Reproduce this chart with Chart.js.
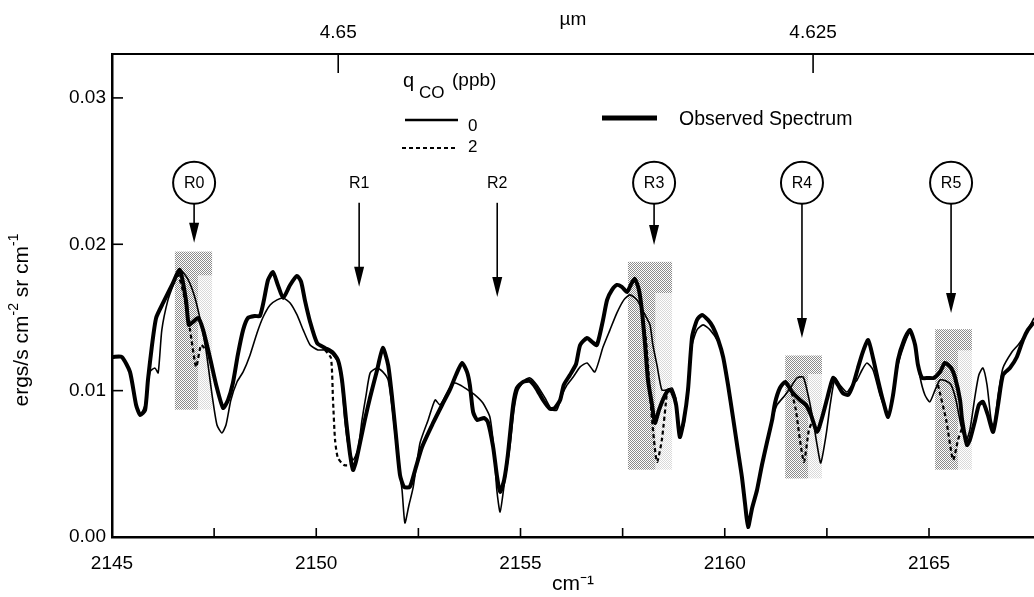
<!DOCTYPE html>
<html>
<head>
<meta charset="utf-8">
<script src="https://cdn.jsdelivr.net/npm/chart.js@4.4.1/dist/chart.umd.min.js"></script>
<style>html,body{margin:0;padding:0;background:#fff}</style>
</head>
<body>
<canvas id="spec" width="1034" height="597"></canvas>
<script>
"use strict";
const FONT = '"Liberation Sans", Arial, Helvetica, sans-serif';

// observed spectrum (thick line)
const obsX = [2145.02, 2145.24, 2145.44, 2145.59, 2145.69, 2145.81, 2145.88, 2145.98, 2146.08, 2146.25,
  2146.47, 2146.66, 2146.81, 2146.88, 2146.98, 2147.11, 2147.23, 2147.40, 2147.55, 2147.72,
  2147.84, 2147.96, 2148.08, 2148.21, 2148.33, 2148.50, 2148.62, 2148.72, 2148.82, 2148.94,
  2149.06, 2149.19, 2149.36, 2149.53, 2149.63, 2149.72, 2149.85, 2150.02, 2150.21, 2150.39,
  2150.53, 2150.63, 2150.73, 2150.83, 2150.90, 2150.97, 2151.07, 2151.19, 2151.32, 2151.49,
  2151.63, 2151.76, 2151.85, 2151.95, 2152.05, 2152.15, 2152.29, 2152.42, 2152.59, 2152.86,
  2153.08, 2153.27, 2153.42, 2153.57, 2153.69, 2153.76, 2153.84, 2153.94, 2154.11, 2154.20,
  2154.33, 2154.42, 2154.50, 2154.60, 2154.69, 2154.82, 2154.91, 2155.06, 2155.23, 2155.38,
  2155.55, 2155.72, 2155.84, 2155.97, 2156.06, 2156.21, 2156.36, 2156.46, 2156.63, 2156.75,
  2156.87, 2157.02, 2157.12, 2157.24, 2157.36, 2157.48, 2157.61, 2157.71, 2157.80, 2157.90,
  2157.97, 2158.05, 2158.12, 2158.22, 2158.29, 2158.39, 2158.54, 2158.64, 2158.71, 2158.81,
  2158.90, 2159.00, 2159.10, 2159.20, 2159.32, 2159.44, 2159.59, 2159.71, 2159.84, 2159.96,
  2160.08, 2160.20, 2160.32, 2160.42, 2160.50, 2160.57, 2160.67, 2160.79, 2160.91, 2161.03,
  2161.16, 2161.23, 2161.35, 2161.48, 2161.65, 2161.84, 2161.99, 2162.11, 2162.26, 2162.38,
  2162.51, 2162.65, 2162.77, 2162.89, 2163.02, 2163.14, 2163.26, 2163.38, 2163.51, 2163.63,
  2163.75, 2163.87, 2164.00, 2164.12, 2164.24, 2164.39, 2164.53, 2164.66, 2164.73, 2164.83,
  2164.98, 2165.12, 2165.27, 2165.39, 2165.54, 2165.64, 2165.76, 2165.81, 2165.93, 2166.00,
  2166.13, 2166.22, 2166.32, 2166.44, 2166.57, 2166.69, 2166.81, 2166.98, 2167.15, 2167.30,
  2167.42, 2167.57];
const obsY = [0.0123, 0.0123, 0.01128, 0.00902, 0.00834, 0.00868, 0.01073, 0.01312, 0.01497, 0.01599,
  0.01722, 0.01825, 0.0162, 0.01449, 0.01469, 0.01497, 0.01415, 0.01223, 0.01039, 0.00882,
  0.00936, 0.01052, 0.01244, 0.01415, 0.01497, 0.0151, 0.0151, 0.0162, 0.01756, 0.01811,
  0.01722, 0.01633, 0.01722, 0.01784, 0.01743, 0.0162, 0.01469, 0.01326, 0.01292, 0.01264,
  0.0121, 0.01073, 0.008, 0.0056, 0.00458, 0.00513, 0.00642, 0.008, 0.00957, 0.01141,
  0.01292, 0.01175, 0.0097, 0.00697, 0.00424, 0.00342, 0.00342, 0.00458, 0.00615, 0.00779,
  0.00902, 0.01005, 0.01107, 0.01189, 0.01128, 0.01039, 0.00854, 0.008, 0.00813, 0.00786,
  0.00615, 0.00424, 0.00308, 0.0039, 0.0056, 0.00902, 0.01018, 0.01059, 0.01066, 0.01018,
  0.00936, 0.00875, 0.00882, 0.00936, 0.01039, 0.01107, 0.01182, 0.01312, 0.0136, 0.01333,
  0.01312, 0.01483, 0.0162, 0.01688, 0.01722, 0.01709, 0.01674, 0.01729, 0.01763, 0.01688,
  0.01551, 0.01312, 0.01073, 0.00902, 0.00779, 0.00868, 0.0097, 0.01005, 0.00991, 0.00902,
  0.00683, 0.008, 0.01005, 0.01367, 0.01483, 0.01517, 0.01483, 0.01435, 0.01346, 0.0123,
  0.01039, 0.0082, 0.00595, 0.0041, 0.00219, 0.00068, 0.00198, 0.00321, 0.00492, 0.00642,
  0.008, 0.00916, 0.01018, 0.01059, 0.00991, 0.00936, 0.00902, 0.00834, 0.00718, 0.00813,
  0.0095, 0.01087, 0.01039, 0.00984, 0.0097, 0.01039, 0.01155, 0.01264, 0.01346, 0.01223,
  0.01073, 0.00936, 0.0082, 0.0097, 0.0121, 0.01346, 0.01415, 0.01312, 0.01175, 0.01087,
  0.01087, 0.01087, 0.01128, 0.01189, 0.01155, 0.01087, 0.00936, 0.008, 0.00629, 0.00663,
  0.008, 0.00902, 0.00923, 0.00834, 0.00718, 0.00902, 0.01107, 0.01155, 0.0123, 0.01346,
  0.01415, 0.01469];

// model, q_CO = 0 ppb (thin solid line)
const q0X = [2145.02, 2145.24, 2145.44, 2145.59, 2145.69, 2145.81, 2145.93, 2146.05, 2146.13, 2146.22,
  2146.37, 2146.52, 2146.66, 2146.84, 2147.01, 2147.15, 2147.30, 2147.45, 2147.57, 2147.69,
  2147.79, 2147.91, 2148.06, 2148.21, 2148.38, 2148.55, 2148.70, 2148.87, 2149.04, 2149.19,
  2149.36, 2149.53, 2149.68, 2149.85, 2150.04, 2150.21, 2150.39, 2150.53, 2150.63, 2150.70,
  2150.78, 2150.90, 2151.02, 2151.12, 2151.22, 2151.32, 2151.49, 2151.63, 2151.76, 2151.88,
  2152.00, 2152.10, 2152.17, 2152.27, 2152.37, 2152.54, 2152.74, 2152.91, 2153.03, 2153.20,
  2153.35, 2153.52, 2153.71, 2153.89, 2154.08, 2154.25, 2154.35, 2154.42, 2154.50, 2154.60,
  2154.74, 2154.84, 2154.94, 2155.11, 2155.23, 2155.40, 2155.60, 2155.77, 2155.89, 2156.02,
  2156.14, 2156.29, 2156.46, 2156.63, 2156.82, 2157.02, 2157.19, 2157.36, 2157.53, 2157.68,
  2157.85, 2158.05, 2158.17, 2158.24, 2158.34, 2158.46, 2158.59, 2158.71, 2158.81, 2158.88,
  2159.00, 2159.10, 2159.20, 2159.32, 2159.47, 2159.64, 2159.84, 2159.96, 2160.08, 2160.20,
  2160.32, 2160.42, 2160.50, 2160.57, 2160.67, 2160.79, 2160.91, 2161.03, 2161.16, 2161.28,
  2161.48, 2161.65, 2161.77, 2161.92, 2162.04, 2162.16, 2162.26, 2162.35, 2162.48, 2162.58,
  2162.70, 2162.82, 2162.99, 2163.12, 2163.24, 2163.36, 2163.48, 2163.63, 2163.80, 2164.00,
  2164.12, 2164.24, 2164.39, 2164.53, 2164.66, 2164.78, 2164.90, 2165.02, 2165.15, 2165.27,
  2165.42, 2165.54, 2165.66, 2165.78, 2165.91, 2166.00, 2166.13, 2166.22, 2166.32, 2166.42,
  2166.52, 2166.59, 2166.69, 2166.81, 2167.03, 2167.18, 2167.35, 2167.57];
const q0Y = [0.0123, 0.0123, 0.01128, 0.00902, 0.00834, 0.00902, 0.01128, 0.01155, 0.01121, 0.01415,
  0.0162, 0.01736, 0.01825, 0.0177, 0.01654, 0.01497, 0.01278, 0.0097, 0.00765, 0.00711,
  0.00765, 0.00936, 0.01059, 0.01128, 0.01244, 0.01394, 0.01503, 0.01585, 0.0162, 0.01633,
  0.01599, 0.01517, 0.01415, 0.01312, 0.01278, 0.01278, 0.01251, 0.01196, 0.01039, 0.008,
  0.00629, 0.00526, 0.00595, 0.008, 0.0097, 0.01121, 0.01155, 0.01128, 0.01073, 0.00834,
  0.00526, 0.00321, 0.00096, 0.00219, 0.00335, 0.00642, 0.008, 0.00936, 0.00902, 0.00984,
  0.01052, 0.01039, 0.01005, 0.0097, 0.00916, 0.0082, 0.00595, 0.00321, 0.00171, 0.00355,
  0.00615, 0.00868, 0.01005, 0.01073, 0.01087, 0.01039, 0.0095, 0.00868, 0.00868, 0.0097,
  0.01039, 0.01093, 0.01162, 0.01189, 0.01128, 0.01298, 0.01415, 0.01531, 0.0162, 0.01654,
  0.0162, 0.01517, 0.01449, 0.01312, 0.01175, 0.01005, 0.01005, 0.01018, 0.00936, 0.00718,
  0.00765, 0.01039, 0.01312, 0.01415, 0.01449, 0.01415, 0.01333, 0.01223, 0.01039, 0.0082,
  0.00595, 0.0041, 0.00219, 0.00068, 0.00198, 0.00321, 0.00492, 0.00642, 0.008, 0.00902,
  0.0097, 0.01039, 0.01087, 0.01093, 0.0097, 0.008, 0.00629, 0.00506, 0.00697, 0.00902,
  0.01087, 0.01039, 0.00991, 0.01039, 0.01073, 0.01141, 0.01189, 0.01141, 0.0097, 0.00834,
  0.00991, 0.01175, 0.01312, 0.01394, 0.01312, 0.01093, 0.0097, 0.00923, 0.01005, 0.01073,
  0.01066, 0.01039, 0.00936, 0.00765, 0.00663, 0.00731, 0.0097, 0.01107, 0.01155, 0.01039,
  0.008, 0.00745, 0.0097, 0.01155, 0.01264, 0.01312, 0.0138, 0.01497];

// model, q_CO = 2 ppb (dashed) - only where it departs from the 0 ppb run; null = break
const q2X = [2146.62, 2146.76, 2146.91, 2147.06, 2147.18, 2147.30, 2148.8,
  2150.21, 2150.36, 2150.41, 2150.46, 2150.53, 2150.68, 2150.83, 2150.90, 2154.5,
  2157.93, 2158.07, 2158.22, 2158.34, 2158.46, 2158.59, 2160.0,
  2161.60, 2161.74, 2161.84, 2161.94, 2162.06, 2162.16, 2164.0,
  2165.22, 2165.42, 2165.59, 2165.71, 2165.81];
const q2Y = [0.01804, 0.01654, 0.01415, 0.01162, 0.01312, 0.01278, null,
  0.01278, 0.01223, 0.00936, 0.00663, 0.0054, 0.00492, 0.00492, 0.00526, null,
  0.01606, 0.01346, 0.008, 0.00513, 0.00663, 0.01005, null,
  0.01032, 0.00868, 0.00663, 0.00513, 0.00731, 0.008, null,
  0.01039, 0.008, 0.00526, 0.00663, 0.00745];

// shaded line windows
const shadeX0 = [2146.54, 2157.63, 2161.48, 2165.15];
const shadeX1 = [2147.45, 2158.71, 2162.38, 2166.05];
const shadeTop = [0.0195, 0.0188, 0.0124, 0.0142];
const shadeBot = [0.0087, 0.0046, 0.0040, 0.0046];

// CO R-branch line markers
const lineNames = ["R0", "R1", "R2", "R3", "R4", "R5"];
const lineX = [2147.01, 2151.05, 2154.43, 2158.27, 2161.89, 2165.54];
const lineCircled = [true, false, false, true, true, true];
const lineLabelY = 0.0242;
const arrowTipY = [0.0201, 0.0171, 0.0164, 0.01995, 0.0136, 0.0153];

// axes
const xTickVals = [2145, 2147.5, 2150, 2152.5, 2155, 2157.5, 2160, 2162.5, 2165];
const xTickLabels = [2145, 2150, 2155, 2160, 2165];
const yTickVals = [0, 0.01, 0.02, 0.03];
const umTicks = ["4.65", "4.625"];
const X_MIN = 2145, X_MAX = 2167.57;

const pts = (xs, ys) => xs.map((x, i) => ({ x, y: ys[i] }));

function stipple(alpha) {
  const c = document.createElement("canvas");
  c.width = 2; c.height = 2;
  const g = c.getContext("2d");
  g.fillStyle = "rgba(0,0,0," + alpha + ")";
  g.fillRect(0, 0, 1, 1); g.fillRect(1, 1, 1, 1);
  return g.createPattern(c, "repeat");
}

function arrow(ctx, px, y0, y1) {
  ctx.beginPath(); ctx.moveTo(px, y0); ctx.lineTo(px, y1 - 16); ctx.stroke();
  ctx.beginPath(); ctx.moveTo(px - 5, y1 - 20); ctx.lineTo(px + 5, y1 - 20); ctx.lineTo(px, y1); ctx.closePath(); ctx.fill();
}

const decor = {
  id: "decor",
  beforeDatasetsDraw(chart) {
    const { ctx, scales: { x, y } } = chart;
    const light = stipple(0.15), dark = stipple(0.36);
    ctx.save();
    shadeX0.forEach((x0, i) => {
      const l = x.getPixelForValue(x0), r = x.getPixelForValue(shadeX1[i]);
      const t = y.getPixelForValue(shadeTop[i]), b = y.getPixelForValue(shadeBot[i]);
      ctx.fillStyle = light; ctx.fillRect(l, t, r - l, b - t);
      ctx.fillStyle = dark;
      ctx.fillRect(l, t, (r - l) * 0.62, b - t);
      ctx.fillRect(l + (r - l) * 0.62, t, (r - l) * 0.38, (b - t) * 0.15);
    });
    ctx.restore();
  },
  afterDatasetsDraw(chart) {
    const { ctx, scales: { x, y } } = chart;
    ctx.save();
    ctx.strokeStyle = "#000"; ctx.fillStyle = "#000"; ctx.lineWidth = 1.6;
    ctx.textAlign = "center"; ctx.textBaseline = "middle";
    const ly = y.getPixelForValue(lineLabelY);
    lineNames.forEach((name, i) => {
      const px = x.getPixelForValue(lineX[i]);
      if (lineCircled[i]) {
        ctx.lineWidth = 2;
        ctx.beginPath(); ctx.arc(px, ly, 21, 0, Math.PI * 2); ctx.stroke();
        ctx.lineWidth = 1.6;
      }
      ctx.font = "16px " + FONT;
      ctx.fillText(name, px, ly + 1);
      arrow(ctx, px, ly + (lineCircled[i] ? 21 : 20), y.getPixelForValue(arrowTipY[i]));
    });
    ctx.restore();
  },
  afterDraw(chart) {
    const { ctx, chartArea: a, scales } = chart;
    ctx.save();
    ctx.strokeStyle = "#000"; ctx.fillStyle = "#000"; ctx.lineWidth = 1.6;
    // inward tick marks
    const seg = (x0, y0, x1, y1) => { ctx.beginPath(); ctx.moveTo(x0, y0); ctx.lineTo(x1, y1); ctx.stroke(); };
    scales.x.ticks.forEach((t, i) => { const p = scales.x.getPixelForTick(i); seg(p, a.bottom, p, a.bottom - 9); });
    scales.x2.ticks.forEach((t, i) => { const p = scales.x2.getPixelForTick(i); seg(p, a.top, p, a.top + 19); });
    scales.y.ticks.forEach((t, i) => { const p = scales.y.getPixelForTick(i); seg(a.left, p, a.left + 11, p); });

    // legend
    ctx.textBaseline = "middle"; ctx.textAlign = "left";
    ctx.font = "20px " + FONT; ctx.fillText("q", 403, 81);
    ctx.font = "17px " + FONT; ctx.fillText("CO", 419, 93);
    ctx.font = "19px " + FONT; ctx.fillText("(ppb)", 452, 81);
    ctx.lineWidth = 2.5; seg(405, 120, 458, 120);
    ctx.font = "17px " + FONT; ctx.fillText("0", 468, 126);
    ctx.lineWidth = 2; ctx.setLineDash([4, 3]); seg(402, 148, 455, 148); ctx.setLineDash([]);
    ctx.fillText("2", 468, 147);
    ctx.lineWidth = 5; seg(602, 118, 657, 118);
    ctx.font = "19.5px " + FONT; ctx.fillText("Observed Spectrum", 679, 120);

    // y axis title with superscripts
    ctx.translate(22, 320); ctx.rotate(-Math.PI / 2);
    const parts = [["ergs/s cm", 21, 0], ["-2", 14, -8], [" sr cm", 21, 0], ["-1", 14, -8]];
    let w = 0;
    parts.forEach(p => { ctx.font = p[1] + "px " + FONT; w += ctx.measureText(p[0]).width; });
    let cx = -w / 2;
    parts.forEach(p => { ctx.font = p[1] + "px " + FONT; ctx.fillText(p[0], cx, p[2]); cx += ctx.measureText(p[0]).width; });
    ctx.restore();
  }
};

new Chart(document.getElementById("spec"), {
  type: "line",
  data: {
    datasets: [
      { label: "Observed Spectrum", data: pts(obsX, obsY), borderColor: "#000", borderWidth: 4, pointRadius: 0, tension: 0.2 },
      { label: "0", data: pts(q0X, q0Y), borderColor: "#000", borderWidth: 1.6, pointRadius: 0, tension: 0.2 },
      { label: "2", data: pts(q2X, q2Y), borderColor: "#000", borderWidth: 2.2, borderDash: [4, 3], pointRadius: 0, tension: 0.2, spanGaps: false }
    ]
  },
  options: {
    responsive: false, animation: false, devicePixelRatio: 1,
    layout: { padding: 0 },
    plugins: { legend: { display: false }, tooltip: { enabled: false } },
    scales: {
      x: {
        type: "linear", position: "bottom", min: X_MIN, max: X_MAX,
        afterBuildTicks: s => { s.ticks = xTickVals.map(v => ({ value: v })); },
        afterFit: s => { s.height = 60; },
        ticks: { padding: 15, maxRotation: 0, autoSkip: false, color: "#000", font: { family: FONT, size: 19 },
          callback: v => xTickLabels.includes(v) ? String(v) : "" },
        grid: { drawOnChartArea: false, drawTicks: false },
        border: { display: true, color: "#000", width: 2.5 },
        title: { display: true, text: "cm\u207B\u00B9", color: "#000", font: { family: FONT, size: 21 }, padding: { top: 0, bottom: 0 } }
      },
      x2: {
        type: "linear", position: "top", min: X_MIN, max: X_MAX,
        afterBuildTicks: s => { s.ticks = umTicks.map(u => ({ value: 10000 / Number(u) })); },
        afterFit: s => { s.height = 54; },
        ticks: { padding: 10, maxRotation: 0, autoSkip: false, color: "#000", font: { family: FONT, size: 19 },
          callback: (v, i) => umTicks[i] },
        grid: { drawOnChartArea: false, drawTicks: false },
        border: { display: true, color: "#000", width: 2 },
        title: { display: true, text: "\u00B5m", color: "#000", font: { family: FONT, size: 19 }, padding: { top: 8, bottom: 0 } }
      },
      y: {
        type: "linear", position: "left", min: 0, max: 0.033,
        afterBuildTicks: s => { s.ticks = yTickVals.map(v => ({ value: v })); },
        afterFit: s => { s.width = 112; },
        ticks: { padding: 6, color: "#000", font: { family: FONT, size: 19 }, callback: v => v.toFixed(2) },
        grid: { drawOnChartArea: false, drawTicks: false },
        border: { display: true, color: "#000", width: 2.5 }
      }
    }
  },
  plugins: [decor]
});
</script>
</body>
</html>
